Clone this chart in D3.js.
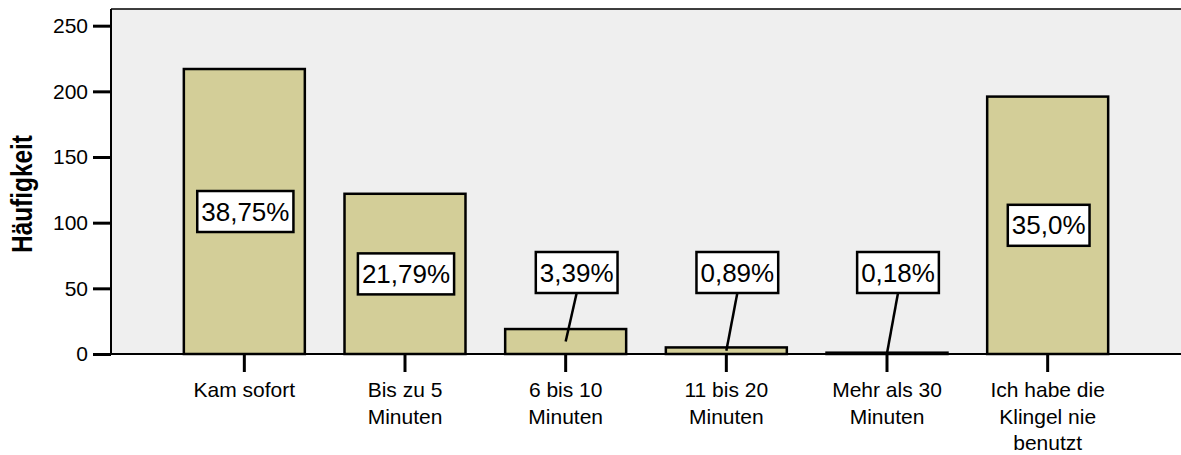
<!DOCTYPE html>
<html>
<head>
<meta charset="utf-8">
<script src="https://cdn.jsdelivr.net/npm/d3@7"></script>
<style>
  body { margin: 0; background: #fff; }
  svg { display: block; font-family: "Liberation Sans", Arial, Helvetica, sans-serif; }
</style>
</head>
<body>
<div class="container"></div>
<script>
// Häufigkeit der Antworten (n = 560)
const categories = [
    ["Kam sofort"],
    ["Bis zu 5", "Minuten"],
    ["6 bis 10", "Minuten"],
    ["11 bis 20", "Minuten"],
    ["Mehr als 30", "Minuten"],
    ["Ich habe die", "Klingel nie", "benutzt"],
];
const counts = [217, 122, 19, 5, 1, 196];
const percentLabels = ["38,75%", "21,79%", "3,39%", "0,89%", "0,18%", "35,0%"];
const yTicks = [0, 50, 100, 150, 200, 250];

const width = 1181;
const height = 455;
const plot = { left: 111, right: 1181, top: 9, bottom: 354 };

const svg = d3.select(".container")
    .append("svg")
    .attr("width", width)
    .attr("height", height);

const x = d3.scaleBand()
    .domain(d3.range(categories.length))
    .range([164, 1128])
    .paddingInner(0.247)
    .paddingOuter(0.1235);

const y = d3.scaleLinear()
    .domain([0, 262.7])
    .range([plot.bottom, plot.top]);

// plot background
svg.append("rect")
    .attr("x", plot.left)
    .attr("y", plot.top)
    .attr("width", plot.right - plot.left)
    .attr("height", plot.bottom - plot.top)
    .attr("fill", "#efefef");

svg.append("line")
    .attr("x1", plot.left).attr("x2", plot.right)
    .attr("y1", plot.top).attr("y2", plot.top)
    .attr("stroke", "#000").attr("stroke-width", 1.5);

// bars
svg.selectAll("rect.bar")
    .data(counts)
    .enter()
    .append("rect")
    .attr("class", "bar")
    .attr("x", (d, i) => x(i))
    .attr("y", (d) => y(d))
    .attr("width", x.bandwidth())
    .attr("height", (d) => y(0) - y(d))
    .attr("fill", "#d3ce98")
    .attr("stroke", "#000")
    .attr("stroke-width", 2.5);

// axes
const yAxis = svg.append("g")
    .attr("transform", `translate(${plot.left},0)`)
    .call(d3.axisLeft(y).tickValues(yTicks).tickSize(18).tickPadding(5));
yAxis.select(".domain").remove();
yAxis.selectAll(".tick line").attr("stroke-width", 3);
yAxis.selectAll(".tick text")
    .attr("font-size", "21px")
    .attr("font-family", null)
    .attr("fill", "#000");

svg.append("line")
    .attr("x1", plot.left).attr("x2", plot.left)
    .attr("y1", plot.top).attr("y2", plot.bottom)
    .attr("stroke", "#000").attr("stroke-width", 2);

const xAxis = svg.append("g")
    .attr("transform", `translate(0,${plot.bottom})`)
    .call(d3.axisBottom(x).tickSize(18).tickFormat(""));
xAxis.select(".domain").remove();
xAxis.selectAll(".tick line").attr("stroke-width", 3);

svg.append("line")
    .attr("x1", plot.left).attr("x2", plot.right)
    .attr("y1", plot.bottom).attr("y2", plot.bottom)
    .attr("stroke", "#000").attr("stroke-width", 2);

// category labels (wrapped)
const catText = svg.selectAll("text.cat")
    .data(categories)
    .enter()
    .append("text")
    .attr("class", "cat")
    .attr("text-anchor", "middle")
    .attr("font-size", "21px")
    .attr("fill", "#000");

catText.selectAll("tspan")
    .data((d, i) => d.map((line) => ({ line, i })))
    .enter()
    .append("tspan")
    .attr("x", (d) => x(d.i) + x.bandwidth() / 2)
    .attr("y", (d, j) => 397 + j * 26.7)
    .text((d) => d.line);

// y title (tall, condensed glyphs as in the original)
svg.append("text")
    .attr("transform", "translate(32,194) rotate(-90)")
    .attr("text-anchor", "middle")
    .attr("font-size", "30px")
    .attr("font-weight", "bold")
    .attr("fill", "#000")
    .attr("textLength", 118)
    .attr("lengthAdjust", "spacingAndGlyphs")
    .text("Häufigkeit");

// percentage labels: inside tall bars, lifted with a leader line for short ones
const labelTop = 252;
const boxH = 41;
const labels = svg.selectAll("g.pct")
    .data(counts)
    .enter()
    .append("g")
    .attr("class", "pct");

labels.each(function (d, i) {
    const g = d3.select(this);
    const cx = x(i) + x.bandwidth() / 2;
    const midY = (y(d) + y(0)) / 2;
    const inside = y(0) - y(d) > 2 * boxH;
    const bx = inside ? cx + 1 : cx + 11;
    const by = inside ? midY : labelTop + boxH / 2;

    if (!inside) {
        g.append("line")
            .attr("x1", bx).attr("y1", by + boxH / 2)
            .attr("x2", cx).attr("y2", midY)
            .attr("stroke", "#000")
            .attr("stroke-width", 2.5);
    }

    const t = g.append("text")
        .attr("x", bx)
        .attr("y", by + 9)
        .attr("text-anchor", "middle")
        .attr("font-size", "26px")
        .attr("fill", "#000")
        .text(percentLabels[i]);

    const w = t.node().getComputedTextLength() + 8;
    g.insert("rect", "text")
        .attr("x", bx - w / 2)
        .attr("y", by - boxH / 2)
        .attr("width", w)
        .attr("height", boxH)
        .attr("fill", "#fff")
        .attr("stroke", "#000")
        .attr("stroke-width", 2.5);
});
</script>
</body>
</html>
